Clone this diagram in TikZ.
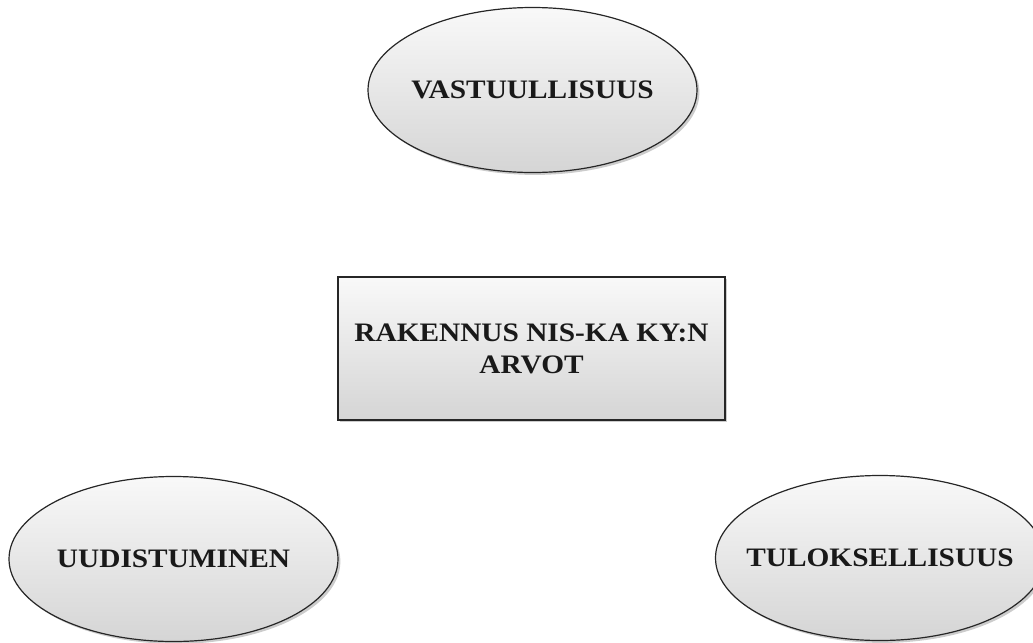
\documentclass[tikz,border=0pt]{standalone}
\usepackage{fontspec}
\setmainfont{Liberation Serif}
\newfontfamily\lblfont[FakeStretch=1.1]{Liberation Serif}
\usetikzlibrary{shapes.geometric,shadows}
\begin{document}
\begin{tikzpicture}[x=0.75pt,y=-0.75pt,
  valuebox/.style={draw=black!85, line width=0.9pt, top color=gray!5, bottom color=gray!33,
    drop shadow={opacity=0.4, shadow xshift=1.8pt, shadow yshift=-1.8pt},
    font=\lblfont\bfseries\fontsize{20pt}{24pt}\selectfont, text=black!90, align=center, inner sep=0pt},
  oval/.style={valuebox, ellipse, minimum width=329*0.75pt, minimum height=165*0.75pt},
  rect/.style={valuebox, rectangle}]
\useasboundingbox (0,0) rectangle (1033,643);
\node[oval] (vast) at (532.5,90) {\makebox[0pt]{VASTUULLISUUS}};
\node[rect, minimum width=387*0.75pt, minimum height=143*0.75pt] (arvot) at (531.5,348.5) {RAKENNUS NIS-KA KY:N\\ARVOT};
\node[oval] (uud) at (173.5,559) {\makebox[0pt]{UUDISTUMINEN}};
\node[oval] (tulos) at (880,558) {\makebox[0pt]{TULOKSELLISUUS}};
\end{tikzpicture}
\end{document}
